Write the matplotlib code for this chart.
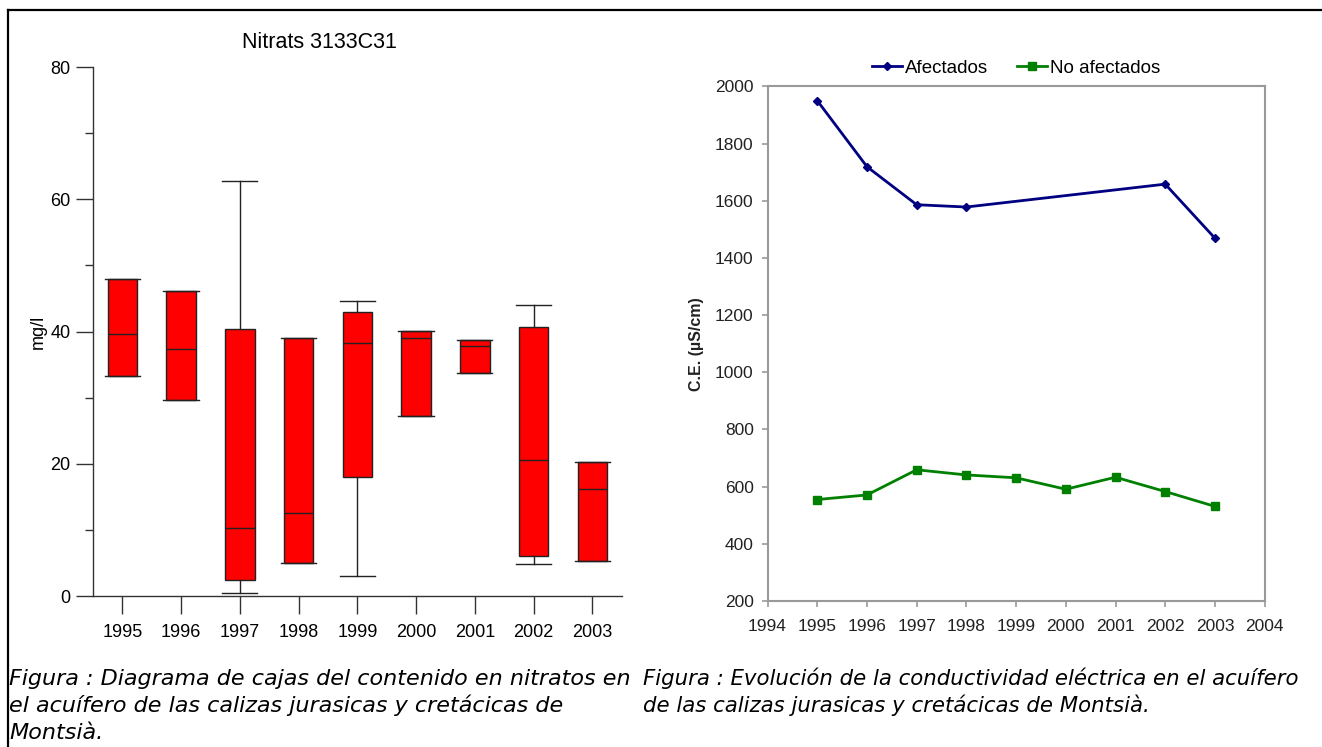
import matplotlib
matplotlib.use("Agg")
import matplotlib.pyplot as plt
from matplotlib.lines import Line2D

plt.rcParams['font.family'] = ['Liberation Sans', 'DejaVu Sans']

# nitrate box plot data (mg/l)
years_box = ['1995', '1996', '1997', '1998', '1999', '2000', '2001', '2002', '2003']
whisker_low = [33.3, 29.6, 0.4, 5.0, 3.0, 27.3, 33.8, 4.8, 5.3]
q1 = [33.3, 29.6, 2.5, 5.0, 18.0, 27.3, 33.8, 6.0, 5.3]
median = [39.7, 37.3, 10.3, 12.5, 38.3, 39.1, 37.8, 20.6, 16.2]
q3 = [48.0, 46.2, 40.4, 39.0, 43.0, 40.1, 38.8, 40.7, 20.2]
whisker_high = [48.0, 46.2, 62.8, 39.0, 44.6, 40.1, 38.8, 44.0, 20.2]

# conductivity series (uS/cm)
years_afect = [1995, 1996, 1997, 1998, 2002, 2003]
ce_afect = [1950, 1719, 1586, 1578, 1658, 1469]
years_noafect = [1995, 1996, 1997, 1998, 1999, 2000, 2001, 2002, 2003]
ce_noafect = [555, 571, 659, 641, 631, 591, 633, 583, 531]

fig = plt.figure(figsize=(13.22, 7.47), dpi=100)

# --- left panel: box plot ---
ax1 = fig.add_axes([0.0703, 0.2021, 0.400, 0.708])
stats = []
for i, y in enumerate(years_box):
    stats.append(dict(label=y, whislo=whisker_low[i], q1=q1[i], med=median[i],
                      q3=q3[i], whishi=whisker_high[i], fliers=[]))
ax1.bxp(stats, positions=range(1, 10), widths=0.5, patch_artist=True,
        showfliers=False,
        boxprops=dict(facecolor='#ff0000', edgecolor='#222222', linewidth=1.0),
        medianprops=dict(color='#222222', linewidth=1.0),
        whiskerprops=dict(color='#222222', linewidth=1.0),
        capprops=dict(color='#222222', linewidth=1.0),
        capwidths=0.6)
ax1.set_xlim(0.5, 9.5)
ax1.set_ylim(0, 80)
ax1.set_yticks([0, 20, 40, 60, 80])
ax1.set_yticks([10, 30, 50, 70], minor=True)
ax1.set_xticks(range(1, 10))
ax1.set_xticklabels(years_box)
for s in ['top', 'right']:
    ax1.spines[s].set_visible(False)
for s in ['left', 'bottom']:
    ax1.spines[s].set_color('#333333')
    ax1.spines[s].set_linewidth(1.0)
ax1.tick_params(axis='y', which='major', length=12, width=1.0, color='#333333',
                labelsize=13, pad=4)
ax1.tick_params(axis='y', which='minor', length=6, width=1.0, color='#333333')
ax1.tick_params(axis='x', length=13, width=1.0, color='#333333', labelsize=13, pad=7)
ax1.set_ylabel('mg/l', fontsize=13, labelpad=3)
fig.text(319 / 1322, 1 - 43 / 747, 'Nitrats 3133C31', fontsize=15.5,
         ha='center', va='center')

# --- right panel: conductivity evolution ---
ax2 = fig.add_axes([0.5806, 0.1954, 0.376, 0.689])
ax2.plot(years_afect, ce_afect, color='#000080', linewidth=2, marker='D',
         markersize=4.5, label='Afectados')
ax2.plot(years_noafect, ce_noafect, color='#008000', linewidth=2, marker='s',
         markersize=6, label='No afectados')
ax2.set_xlim(1994, 2004)
ax2.set_ylim(200, 2000)
ax2.set_xticks(range(1994, 2005))
ax2.set_yticks(range(200, 2001, 200))
for s in ax2.spines.values():
    s.set_color('#999999')
    s.set_linewidth(1.5)
ax2.tick_params(length=4, width=1.2, color='#999999', labelsize=12.5,
                labelcolor='#222222')
ax2.tick_params(axis='x', pad=9)
ax2.tick_params(axis='y', pad=6)
ax2.set_ylabel('C.E. (µS/cm)', fontsize=11.5, fontweight='bold', color='#222222',
               labelpad=8)
ax2.legend(loc='lower center', bbox_to_anchor=(0.5, 1.0), ncol=2, frameon=False,
           fontsize=13.5, handlelength=1.6, handletextpad=0.2, columnspacing=1.5,
           borderaxespad=0.1)

# frame lines along top and left edge
fig.add_artist(Line2D([7.5 / 1322, 7.5 / 1322], [0, 1 - 9.5 / 747],
                      transform=fig.transFigure, color='black', linewidth=1.6))
fig.add_artist(Line2D([7.5 / 1322, 1], [1 - 9.5 / 747, 1 - 9.5 / 747],
                      transform=fig.transFigure, color='black', linewidth=1.6))

# captions
cap_kw = dict(style='italic', va='baseline', ha='left', family=['DejaVu Sans'])
fig.text(9 / 1322, 1 - 685 / 747,
         'Figura : Diagrama de cajas del contenido en nitratos en',
         fontsize=16, **cap_kw)
fig.text(9 / 1322, 1 - 712 / 747,
         'el acuífero de las calizas jurasicas y cretácicas de',
         fontsize=16, **cap_kw)
fig.text(9 / 1322, 1 - 739 / 747, 'Montsià.', fontsize=16, **cap_kw)
fig.text(643 / 1322, 1 - 685 / 747,
         'Figura : Evolución de la conductividad eléctrica en el acuífero',
         fontsize=15.3, **cap_kw)
fig.text(643 / 1322, 1 - 712 / 747,
         'de las calizas jurasicas y cretácicas de Montsià.',
         fontsize=15.3, **cap_kw)

fig.savefig('out.png', dpi=100, facecolor='white')
